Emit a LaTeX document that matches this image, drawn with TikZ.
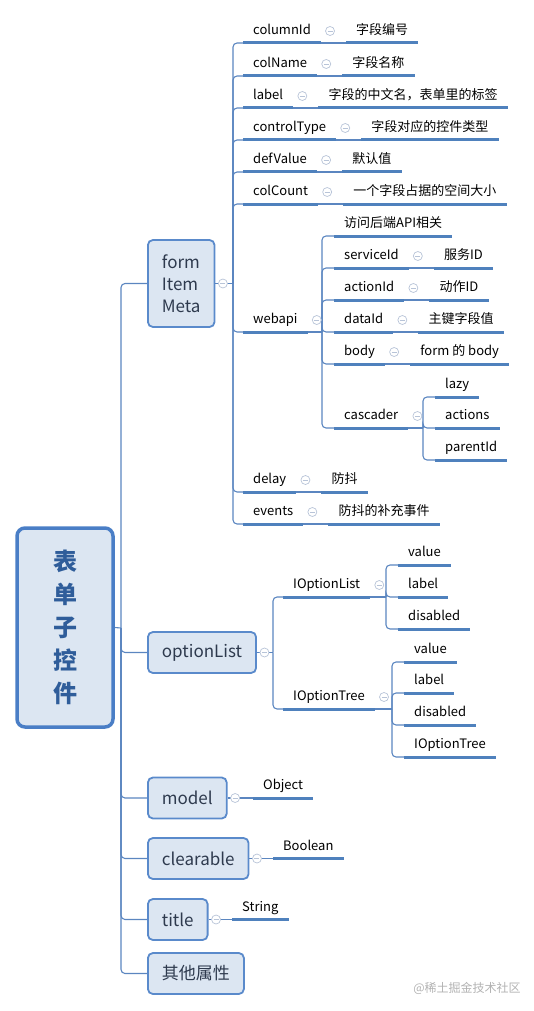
\documentclass[tikz,border=0pt]{standalone}
\usepackage{fontspec}
\setmainfont{Noto Sans CJK SC}
\usetikzlibrary{positioning}

\definecolor{linkc}{HTML}{5B86C0}
\definecolor{barc}{HTML}{4F81BD}
\definecolor{boxc}{HTML}{5A8ACB}
\definecolor{boxf}{HTML}{DCE6F2}
\definecolor{boxt}{HTML}{2E3A4E}
\definecolor{rootc}{HTML}{4A7EC6}
\definecolor{roott}{HTML}{2F5D9A}
\definecolor{foldc}{HTML}{B8C4D8}

\begin{document}
\begin{tikzpicture}[x=1pt, y=-1pt,
    link/.style={linkc, line width=1.1pt, rounded corners=4pt},
    uline/.style={barc, line width=3pt},
    leaf/.style={anchor=south west, inner xsep=10pt, inner ysep=5pt, text height=10pt, text depth=3pt, font=\fontsize{13}{15}\selectfont},
    box/.style={anchor=west, draw=boxc, fill=boxf, line width=1.8pt, rounded corners=5pt, inner xsep=14pt, minimum height=41pt, text=boxt, font=\fontsize{17}{22}\selectfont},
    rootbox/.style={draw=rootc, fill=boxf, line width=3.5pt, rounded corners=8pt, minimum width=96pt, minimum height=199pt, align=center, text=roott, font=\bfseries\fontsize{24}{33}\selectfont},
    fold/.style={circle, draw=foldc, fill=white, line width=0.7pt, minimum size=9pt, inner sep=0pt,
      path picture={\draw[foldc, line width=0.7pt] ([xshift=-2.5pt]path picture bounding box.center) -- ([xshift=2.5pt]path picture bounding box.center);}}]
    \useasboundingbox (0,0) rectangle (534,1011);

    % root and first level
    \node[rootbox] (root) at (65,627.5) {表\\单\\子\\控\\件};
    \node[box, align=left, minimum height=87pt] (fim) at (147,283.5) {form\\Item\\Meta};
    \node[box] (optl) at (147,652.5) {optionList};
    \node[box] (model) at (147,798) {model};
    \node[box] (clear) at (147,858.5) {clearable};
    \node[box] (title) at (147,919.5) {title};
    \node[box] (other) at (147,973.5) {其他属性};

    % formItemMeta
    \node[leaf] (colid) at (243,43) {columnId};
    \node[leaf, right=25pt of colid] (colidv) {字段编号};
    \node[leaf] (colname) at (243,76) {colName};
    \node[leaf, right=25pt of colname] (colnamev) {字段名称};
    \node[leaf] (label) at (243,108) {label};
    \node[leaf, right=25pt of label] (labelv) {字段的中文名，表单里的标签};
    \node[leaf] (ctype) at (243,140) {controlType};
    \node[leaf, right=25pt of ctype] (ctypev) {字段对应的控件类型};
    \node[leaf] (defval) at (243,172) {defValue};
    \node[leaf, right=25pt of defval] (defvalv) {默认值};
    \node[leaf] (colcount) at (243,204) {colCount};
    \node[leaf, right=25pt of colcount] (colcountv) {一个字段占据的空间大小};
    \node[leaf] (webapi) at (243,332) {webapi};
    \node[leaf] (delay) at (243,492) {delay};
    \node[leaf, right=25pt of delay] (delayv) {防抖};
    \node[leaf] (events) at (243,524) {events};
    \node[leaf, right=25pt of events] (eventsv) {防抖的补充事件};

    % webapi
    \node[leaf] (apinote) at (334,236) {访问后端API相关};
    \node[leaf] (svc) at (334,268) {serviceId};
    \node[leaf, right=25pt of svc] (svcv) {服务ID};
    \node[leaf] (act) at (334,300) {actionId};
    \node[leaf, right=25pt of act] (actv) {动作ID};
    \node[leaf] (did) at (334,332) {dataId};
    \node[leaf, right=25pt of did] (didv) {主键字段值};
    \node[leaf] (body) at (334,364) {body};
    \node[leaf, right=25pt of body] (bodyv) {form 的 body};
    \node[leaf] (casc) at (334,428) {cascader};
    \node[leaf] (lazy) at (435,397) {lazy};
    \node[leaf] (actions) at (435,428) {actions};
    \node[leaf] (parent) at (435,460) {parentId};

    % optionList
    \node[leaf] (iol) at (283,597) {IOptionList};
    \node[leaf] (v1) at (398,565) {value};
    \node[leaf] (l1) at (398,597) {label};
    \node[leaf] (d1) at (398,629) {disabled};
    \node[leaf] (iot) at (283,709) {IOptionTree};
    \node[leaf] (v2) at (404,662) {value};
    \node[leaf] (l2) at (404,693) {label};
    \node[leaf] (d2) at (404,725) {disabled};
    \node[leaf] (t2) at (404,757) {IOptionTree};

    % simple types
    \node[leaf] (obj) at (253,798) {Object};
    \node[leaf] (bool) at (273,858.5) {Boolean};
    \node[leaf] (str) at (232,919.5) {String};

    \node[text=black!30, font=\fontsize{12}{14}\selectfont] (wmark) at (467,988) {@稀土掘金技术社区};

    % connectors
    \coordinate (rj) at (121,628);
    \coordinate (fj) at (233,283.5);
    \coordinate (wj) at (322,332);
    \coordinate (cj) at (423,428);
    \coordinate (oj) at (273,652.5);
    \coordinate (jl) at (386,597);
    \coordinate (jt) at (392,709);

    \draw[link] (root.east) -- (rj);
    \foreach \n in {fim,optl,model,clear,title,other}
        \draw[link] (rj) |- (\n.west);

    \draw[link] (fim.east) -- (fj);
    \foreach \n in {colid,colname,label,ctype,defval,colcount,webapi,delay,events}
        \draw[link] (fj) |- (\n.south west);

    \draw[link] (webapi.south east) -- (wj);
    \foreach \n in {apinote,svc,act,did,body,casc}
        \draw[link] (wj) |- (\n.south west);

    \draw[link] (casc.south east) -- (cj);
    \foreach \n in {lazy,actions,parent}
        \draw[link] (cj) |- (\n.south west);

    \draw[link] (optl.east) -- (oj);
    \foreach \n in {iol,iot}
        \draw[link] (oj) |- (\n.south west);
    \draw[link] (iol.south east) -- (jl);
    \foreach \n in {v1,l1,d1}
        \draw[link] (jl) |- (\n.south west);
    \draw[link] (iot.south east) -- (jt);
    \foreach \n in {v2,l2,d2,t2}
        \draw[link] (jt) |- (\n.south west);

    \foreach \k/\v in {colid/colidv,colname/colnamev,label/labelv,ctype/ctypev,defval/defvalv,colcount/colcountv,delay/delayv,events/eventsv,svc/svcv,act/actv,did/didv,body/bodyv}
        \draw[link] (\k.south east) -- (\v.south west);

    \draw[link] (model.east) -- (obj.south west);
    \draw[link] (clear.east) -- (bool.south west);
    \draw[link] (title.east) -- (str.south west);

    % underlines
    \foreach \n in {colid,colidv,colname,colnamev,label,labelv,ctype,ctypev,defval,defvalv,colcount,colcountv,webapi,delay,delayv,events,eventsv,apinote,svc,svcv,act,actv,did,didv,body,bodyv,casc,lazy,actions,parent,iol,v1,l1,d1,iot,v2,l2,d2,t2,obj,bool,str}
        \draw[uline] (\n.south west) -- (\n.south east);

    % fold marks
    \foreach \n in {colid,colname,label,ctype,defval,colcount,webapi,delay,events,svc,act,did,body,casc,iol,iot}
        \node[fold] at ([shift={(9pt,12pt)}]\n.south east) {};
    \foreach \n in {fim,optl,model,clear,title}
        \node[fold] at ([xshift=7.5pt]\n.east) {};
\end{tikzpicture}
\end{document}
